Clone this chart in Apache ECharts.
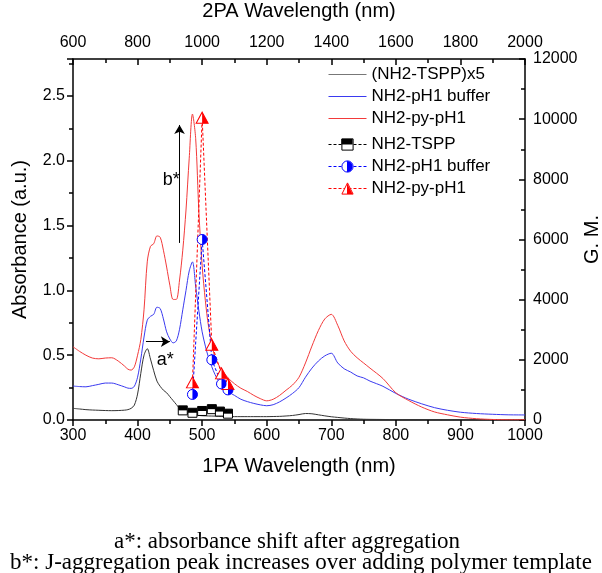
<!DOCTYPE html>
<html><head><meta charset="utf-8">
<script src="https://cdn.jsdelivr.net/npm/echarts@6/dist/echarts.min.js"></script>
<style>html,body{margin:0;padding:0;background:#fff}#c{width:602px;height:573px}</style>
</head><body><div id="c"></div>
<script>
// ---- Data ----
const wl1PA = [300,310,320,330,340,350,360,370,380,
  385,390,395,400,405,410,415,420,425,430,435,440,445,450,455,460,465,470,475,480,485,490,495,500,505,510,
  520,530,540,550,560,570,580,590,600,610,620,630,640,650,660,670,680,690,700,710,720,730,740,750,760,
  780,800,820,840,860,880,900,925,950,975,1000];
const tsppX5 = [0.09,0.085,0.08,0.077,0.075,0.073,0.072,0.073,0.076,
  0.08,0.09,0.115,0.20,0.36,0.50,0.55,0.47,0.38,0.30,0.26,0.23,0.21,0.18,0.15,0.12,0.09,0.07,0.055,0.045,0.04,0.037,0.035,0.033,0.032,0.031,
  0.03,0.028,0.027,0.026,0.026,0.026,0.026,0.026,0.026,0.027,0.028,0.031,0.035,0.042,0.05,0.048,0.04,0.032,0.025,0.02,0.015,0.011,0.008,0.006,0.005,
  0.004,0.003,0.003,0.002,0.002,0.002,0.002,0.002,0.002,0.002,0.002];
const pH1Buffer = [0.262,0.258,0.256,0.265,0.275,0.285,0.285,0.272,0.255,
  0.246,0.244,0.26,0.33,0.47,0.64,0.77,0.80,0.815,0.87,0.86,0.78,0.68,0.625,0.595,0.61,0.70,0.85,1.00,1.15,1.22,1.03,0.84,0.68,0.57,0.48,
  0.35,0.27,0.22,0.19,0.16,0.142,0.128,0.117,0.11,0.118,0.14,0.17,0.205,0.25,0.33,0.40,0.455,0.495,0.515,0.44,0.395,0.37,0.34,0.325,0.30,
  0.26,0.205,0.16,0.125,0.095,0.075,0.06,0.05,0.044,0.04,0.039];
const pyPH1 = [0.565,0.53,0.50,0.478,0.472,0.478,0.48,0.455,0.415,
  0.392,0.385,0.41,0.50,0.62,0.85,1.22,1.34,1.36,1.42,1.41,1.31,1.18,1.04,0.93,0.93,1.08,1.31,1.62,2.02,2.36,2.17,1.60,1.19,0.92,0.72,
  0.48,0.39,0.325,0.28,0.245,0.22,0.19,0.165,0.148,0.16,0.19,0.23,0.27,0.33,0.44,0.57,0.69,0.78,0.815,0.73,0.61,0.53,0.48,0.44,0.40,
  0.32,0.21,0.15,0.10,0.062,0.04,0.022,0.01,0.004,0.002,0.002];

const wl2PA_TSPP = [940,970,1000,1030,1055,1080];
const gmTSPP = [320,240,300,360,280,210];
const wl2PA = [970,1000,1030,1060,1080];
const gmPH1Buffer = [850,6000,2000,1200,1000];
const gmPyPH1 = [1250,10050,2500,1550,1200];

const captionLines = ['a*: absorbance shift after aggregation',
  'b*: J-aggregation peak increases over adding polymer template'];

// ---- Build ----
const pairs = (xs, ys) => xs.map((x, i) => [x, ys[i]]);
const FONT = 'Liberation Sans';
const BLACK = '#000', BLUE = '#0000ff', RED = '#ff0000';
const LBLACK = '#333333', LBLUE = '#3a3af0', LRED = '#f23a3a';

const HALF_SQUARE = 'path://M0 0M20 20M0 0L20 0L20 10L0 10Z';
const HALF_CIRCLE = 'path://M0 0M20 20M10 0A10 10 0 0 1 10 20Z';
const HALF_TRI = 'path://M0 0M20 20M10 0L20 20L10 20Z';

const chart = echarts.init(document.getElementById('c'), null, {renderer: 'canvas'});

const axisCommon = () => ({
  axisLine: {show: true, onZero: false, lineStyle: {color: BLACK, width: 1.5}},
  splitLine: {show: false},
  axisLabel: {color: BLACK, fontSize: 16, fontFamily: FONT, formatter: (v) => String(v)},
  nameTextStyle: {color: BLACK, fontSize: 20, fontFamily: FONT},
  nameLocation: 'middle',
  nameMoveOverlap: false
});

function lineSeries(name, ys, color) {
  return {name, type: 'line', xAxisIndex: 0, yAxisIndex: 0, data: pairs(wl1PA, ys),
    symbol: 'none', smooth: 0.3, lineStyle: {color, width: 1}, itemStyle: {color}, z: 2};
}
function markerSeries(name, xs, ys, color, symbol, size) {
  return {name, type: 'line', xAxisIndex: 1, yAxisIndex: 1, data: pairs(xs, ys),
    symbol, symbolSize: size, showSymbol: true,
    lineStyle: {color, width: 1, type: [3, 2]},
    itemStyle: {color: '#fff', borderColor: color, borderWidth: 1}, z: 4};
}
function halfSeries(name, xs, ys, color, symbol, size) {
  return {name, type: 'line', xAxisIndex: 1, yAxisIndex: 1, data: pairs(xs, ys),
    symbol, symbolSize: size, showSymbol: true,
    lineStyle: {opacity: 0, width: 0},
    itemStyle: {color, borderWidth: 0}, z: 5};
}

const s0 = lineSeries('(NH2-TSPP)x5', tsppX5, LBLACK);
s0.markLine = {silent: true, symbol: ['none', 'arrow'], symbolSize: [8, 9],
  lineStyle: {color: BLACK, width: 1, type: 'solid'}, label: {show: false},
  data: [
    [{coord: [413, 0.604]}, {coord: [450, 0.604]}],
    [{coord: [465, 1.366]}, {coord: [465, 2.276]}]
  ]};
s0.markPoint = {silent: true, symbol: 'circle', symbolSize: 0,
  label: {show: true, position: 'inside', formatter: '{b}', color: BLACK, fontSize: 18, fontFamily: FONT},
  data: [{name: 'a*', coord: [443, 0.463]}, {name: 'b*', coord: [452, 1.85]}]};

const series = [
  s0,
  lineSeries('NH2-pH1 buffer', pH1Buffer, LBLUE),
  lineSeries('NH2-py-pH1', pyPH1, LRED),
  markerSeries('NH2-TSPP (2PA)', wl2PA_TSPP, gmTSPP, BLACK, 'rect', 9),
  markerSeries('NH2-pH1 buffer (2PA)', wl2PA, gmPH1Buffer, BLUE, 'circle', 10),
  markerSeries('NH2-py-pH1 (2PA)', wl2PA, gmPyPH1, RED, 'triangle', [12, 11]),
  halfSeries('NH2-TSPP (2PA fill)', wl2PA_TSPP, gmTSPP, BLACK, HALF_SQUARE, 9),
  halfSeries('NH2-pH1 buffer (2PA fill)', wl2PA, gmPH1Buffer, BLUE, HALF_CIRCLE, 10),
  halfSeries('NH2-py-pH1 (2PA fill)', wl2PA, gmPyPH1, RED, HALF_TRI, [12, 11])
];

const legendBase = {orient: 'vertical', left: 328, itemWidth: 38, itemHeight: 14, itemGap: 5,
  selectedMode: false, padding: 0, textStyle: {fontSize: 17, color: BLACK, fontFamily: FONT}};

const option = {
  animation: false,
  backgroundColor: '#fff',
  textStyle: {fontFamily: FONT},
  grid: {left: 73, right: 77, top: 59, bottom: 153, containLabel: false, outerBoundsMode: 'none'},
  xAxis: [
    Object.assign(axisCommon(), {type: 'value', position: 'bottom', min: 300, max: 1000, interval: 100,
      axisTick: {show: true, inside: false, length: 6, lineStyle: {color: BLACK, width: 1.5}},
      minorTick: {show: true, splitNumber: 2, length: 4, lineStyle: {color: BLACK, width: 1.5}},
      name: '1PA Wavelength (nm)', nameGap: 36}),
    Object.assign(axisCommon(), {type: 'value', position: 'top', min: 600, max: 2000, interval: 200,
      axisTick: {show: true, inside: true, length: 6, lineStyle: {color: BLACK, width: 1.5}},
      minorTick: {show: true, splitNumber: 2, length: 4, lineStyle: {color: BLACK, width: 1.5}},
      name: '2PA Wavelength (nm)', nameGap: 38})
  ],
  yAxis: [
    Object.assign(axisCommon(), {type: 'value', position: 'left', min: 0, max: 2.785, interval: 0.5,
      axisTick: {show: true, inside: false, length: 6, lineStyle: {color: BLACK, width: 1.5}},
      minorTick: {show: true, splitNumber: 2, length: 4, lineStyle: {color: BLACK, width: 1.5}},
      name: 'Absorbance (a.u.)', nameGap: 43}),
    Object.assign(axisCommon(), {type: 'value', position: 'right', min: 0, max: 12000, interval: 2000,
      axisTick: {show: true, inside: true, length: 6, lineStyle: {color: BLACK, width: 1.5}},
      minorTick: {show: true, splitNumber: 2, length: 4, lineStyle: {color: BLACK, width: 1.5}},
      name: 'G. M.', nameGap: 57})
  ],
  legend: [
    Object.assign({}, legendBase, {top: 66,
      data: [
        {name: '(NH2-TSPP)x5', lineStyle: {color: '#777', width: 1, type: 'solid'}, itemStyle: {opacity: 0}},
        {name: 'NH2-pH1 buffer', lineStyle: {color: LBLUE, width: 1, type: 'solid'}, itemStyle: {opacity: 0}},
        {name: 'NH2-py-pH1', lineStyle: {color: LRED, width: 1, type: 'solid'}, itemStyle: {opacity: 0}}
      ]}),
    Object.assign({}, legendBase, {top: 136,
      formatter: (n) => n.replace(' (2PA)', ''),
      data: [
        {name: 'NH2-TSPP (2PA)', lineStyle: {color: BLACK, width: 1, type: [3, 2]}, itemStyle: {color: '#fff', borderColor: BLACK, borderWidth: 1}},
        {name: 'NH2-pH1 buffer (2PA)', lineStyle: {color: BLUE, width: 1, type: [3, 2]}, itemStyle: {color: '#fff', borderColor: BLUE, borderWidth: 1}},
        {name: 'NH2-py-pH1 (2PA)', lineStyle: {color: RED, width: 1, type: [3, 2]}, itemStyle: {color: '#fff', borderColor: RED, borderWidth: 1}}
      ]}),
    Object.assign({}, legendBase, {top: 136,
      formatter: () => ' ',
      data: [
        {name: 'NH2-TSPP (2PA fill)', lineStyle: {color: 'rgba(0,0,0,0)', width: 0}, itemStyle: {color: BLACK, borderWidth: 0}},
        {name: 'NH2-pH1 buffer (2PA fill)', lineStyle: {color: 'rgba(0,0,0,0)', width: 0}, itemStyle: {color: BLUE, borderWidth: 0}},
        {name: 'NH2-py-pH1 (2PA fill)', lineStyle: {color: 'rgba(0,0,0,0)', width: 0}, itemStyle: {color: RED, borderWidth: 0}}
      ]})
  ],
  graphic: [
    {type: 'text', x: 287, y: 542, style: {text: captionLines[0], font: '23px "Liberation Serif"', fill: BLACK, align: 'center', verticalAlign: 'middle'}},
    {type: 'text', x: 301, y: 563, style: {text: captionLines[1], font: '23px "Liberation Serif"', fill: BLACK, align: 'center', verticalAlign: 'middle'}}
  ],
  series
};
option.yAxis[0].axisLabel.formatter = (v) => v.toFixed(1);
option.yAxis[0].axisLabel.showMaxLabel = false;
option.yAxis[0].nameRotate = 90;
option.yAxis[1].nameRotate = 90;
chart.setOption(option);
</script></body></html>
